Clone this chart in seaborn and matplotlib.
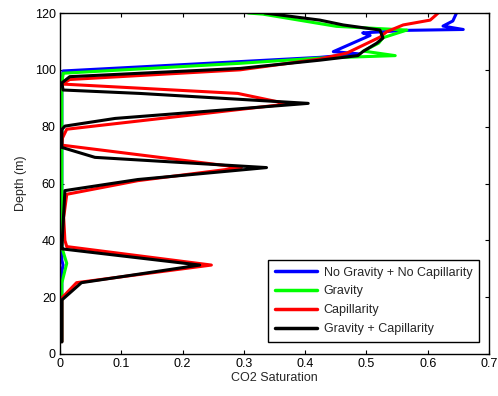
import matplotlib
matplotlib.use("Agg")
import matplotlib.pyplot as plt
import seaborn as sns
import pandas as pd

# ---- data ----
labels = ["No Gravity + No Capillarity", "Gravity", "Capillarity", "Gravity + Capillarity"]

sat_ngnc = [0.647, 0.641, 0.625, 0.658, 0.566, 0.494, 0.506, 0.446, 0.489, 0.424, 0.294,
            0.005, 0.003, 0.003, 0.005, 0.003, 0.003]
dep_ngnc = [120, 117.2, 115.4, 114.2, 113.9, 113.0, 112.1, 106.4, 105.6, 104.4, 102.9,
            99.6, 95.0, 33.0, 31.3, 29.0, 4.3]

sat_g = [0.307, 0.331, 0.451, 0.566, 0.527, 0.520, 0.495, 0.547, 0.420, 0.294,
         0.005, 0.003, 0.003, 0.011, 0.003, 0.003]
dep_g = [120, 119.6, 115.3, 114.0, 111.3, 109.4, 106.6, 105.0, 104.1, 102.3,
         98.8, 95.0, 37.5, 31.9, 25.0, 4.3]

sat_c = [0.617, 0.612, 0.604, 0.560, 0.533, 0.522, 0.468, 0.424, 0.294, 0.016, 0.003,
         0.290, 0.372, 0.011, 0.004, 0.003, 0.296, 0.127, 0.011, 0.006, 0.008, 0.011,
         0.247, 0.027, 0.003, 0.003]
dep_c = [120, 119.0, 117.5, 115.8, 113.4, 111.5, 105.9, 103.8, 100.0, 96.6, 95.0,
         91.7, 88.0, 79.1, 76.0, 73.5, 65.6, 61.0, 56.2, 48.0, 40.0, 37.8,
         31.3, 25.1, 19.7, 4.3]

sat_gc = [0.334, 0.424, 0.462, 0.522, 0.527, 0.517, 0.494, 0.486, 0.424, 0.294, 0.016,
          0.003, 0.005, 0.130, 0.405, 0.090, 0.008, 0.003, 0.003, 0.057, 0.337, 0.127,
          0.008, 0.003, 0.003, 0.228, 0.035, 0.003, 0.003]
dep_gc = [120, 117.5, 115.8, 114.0, 111.2, 109.4, 106.4, 105.0, 103.4, 100.5, 97.6,
          95.4, 92.9, 91.7, 88.2, 82.9, 80.2, 79.0, 72.7, 69.2, 65.6, 61.4,
          57.5, 37.2, 37.0, 31.3, 25.1, 19.0, 4.3]

colors = ["#0000ff", "#00ff00", "#ff0000", "#000000"]
xticks = [0, 0.1, 0.2, 0.3, 0.4, 0.5, 0.6, 0.7]
xticklabels = ["0", "0.1", "0.2", "0.3", "0.4", "0.5", "0.6", "0.7"]
yticks = [0, 20, 40, 60, 80, 100, 120]

series = [(sat_ngnc, dep_ngnc), (sat_g, dep_g), (sat_c, dep_c), (sat_gc, dep_gc)]

# ---- style ----
sns.set_style("ticks")
plt.rcParams["font.family"] = ["Liberation Sans", "DejaVu Sans"]
FS = 9
plt.rcParams["font.size"] = FS

fig = plt.figure(figsize=(4.98, 3.96), dpi=100)
ax = fig.add_axes([60 / 498, 1 - 354 / 396, 429 / 498, 341 / 396])

for (s, d), lab, col in zip(series, labels, colors):
    df = pd.DataFrame({"sat": s, "depth": d})
    sns.lineplot(data=df, x="sat", y="depth", sort=False, estimator=None,
                 color=col, lw=2.2, label=lab, ax=ax)

ax.set_xlim(0, 0.7)
ax.set_ylim(0, 120)
ax.set_xticks(xticks)
ax.set_xticklabels(xticklabels)
ax.set_yticks(yticks)
ax.set_xlabel("CO2 Saturation", fontsize=FS, labelpad=1)
ax.set_ylabel("Depth (m)", fontsize=FS, labelpad=6)
ax.tick_params(direction="in", top=True, right=True, length=3, width=0.8,
               labelsize=FS, colors="black", pad=3)
for sp in ax.spines.values():
    sp.set_visible(True)
    sp.set_linewidth(1.0)
    sp.set_color("black")

leg = ax.legend(loc="lower right", bbox_to_anchor=(0.977, 0.035), borderaxespad=0,
                fancybox=False, framealpha=1, edgecolor="black", fontsize=FS,
                handlelength=3.4, labelspacing=0.55, borderpad=0.55, handletextpad=0.5)
leg.get_frame().set_linewidth(1.0)
for h in leg.get_lines():
    h.set_linewidth(2.5)

fig.savefig("out.png", dpi=100)
